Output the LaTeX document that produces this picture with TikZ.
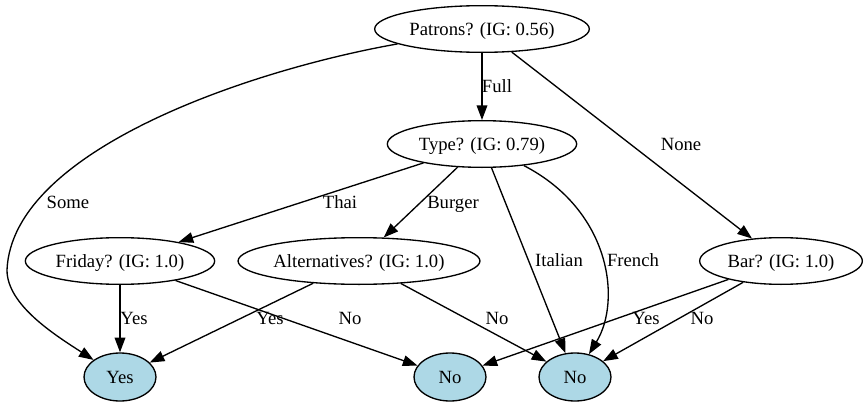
\documentclass[tikz,border=0pt]{standalone}
\usepackage{fontspec}
\setmainfont{Liberation Serif}
\usetikzlibrary{shapes.geometric,arrows.meta}
\definecolor{leafblue}{HTML}{ADD8E6}
\begin{document}
\begin{tikzpicture}[x=0.75pt,y=-0.75pt,
  font=\fontsize{14pt}{16pt}\selectfont, line width=1pt,
  dnode/.style={ellipse,draw,inner sep=0pt,minimum height=35pt,text height=9.3pt,text depth=0pt},
  leaf/.style={dnode,fill=leafblue,minimum height=36pt,minimum width=54pt},
  lbl/.style={inner sep=0pt,text height=9.3pt,text depth=0pt},
  conn/.style={-{Triangle[length=11pt,width=8pt]}}]
\useasboundingbox (0,0) rectangle (868,407);
% nodes
\node[dnode, minimum width=161pt] (P) at (482,29) {Patrons? (IG: 0.56)};
\node[dnode, minimum width=142pt] (T) at (482,144) {Type? (IG: 0.79)};
\node[dnode, minimum width=142pt] (F) at (120,261) {Friday? (IG: 1.0)};
\node[dnode, minimum width=181pt] (A) at (359,261) {Alternatives? (IG: 1.0)};
\node[dnode, minimum width=122pt] (B) at (781,261) {Bar? (IG: 1.0)};
\node[leaf] (Y) at (120,377) {Yes};
\node[leaf] (N1) at (450,377) {No};
\node[leaf] (N2) at (575,377) {No};
% connectors
\draw[conn] (P) .. controls (250,70) and (12,150) .. (7,270) .. controls (7,305) and (55,335) .. (Y);
\draw[conn] (P) -- (T);
\draw[conn] (P) -- (B);
\draw[conn] (T) -- (F);
\draw[conn] (T) -- (A);
\draw[conn] (T) -- (N2);
\draw[conn] (T) .. controls (610,210) and (622,300) .. (N2);
\draw[conn] (F) -- (Y);
\draw[conn] (F) -- (N1);
\draw[conn] (A) -- (Y);
\draw[conn] (A) -- (N2);
\draw[conn] (B) -- (N1);
\draw[conn] (B) -- (N2);
% labels
\node[lbl] (lfull) at (497,86) {Full};
\node[lbl] (lnone) at (681,144) {None};
\node[lbl] (lsome) at (68,202) {Some};
\node[lbl] (lthai) at (340,202) {Thai};
\node[lbl] (lburger) at (453,202) {Burger};
\node[lbl] (lital) at (559,260) {Italian};
\node[lbl] (lfrench) at (633,260) {French};
\node[lbl] (lfy) at (134,318) {Yes};
\node[lbl] (lfn) at (350,318) {No};
\node[lbl] (lay) at (270,318) {Yes};
\node[lbl] (lan) at (497,318) {No};
\node[lbl] (lby) at (646,318) {Yes};
\node[lbl] (lbn) at (702,318) {No};
\end{tikzpicture}
\end{document}
